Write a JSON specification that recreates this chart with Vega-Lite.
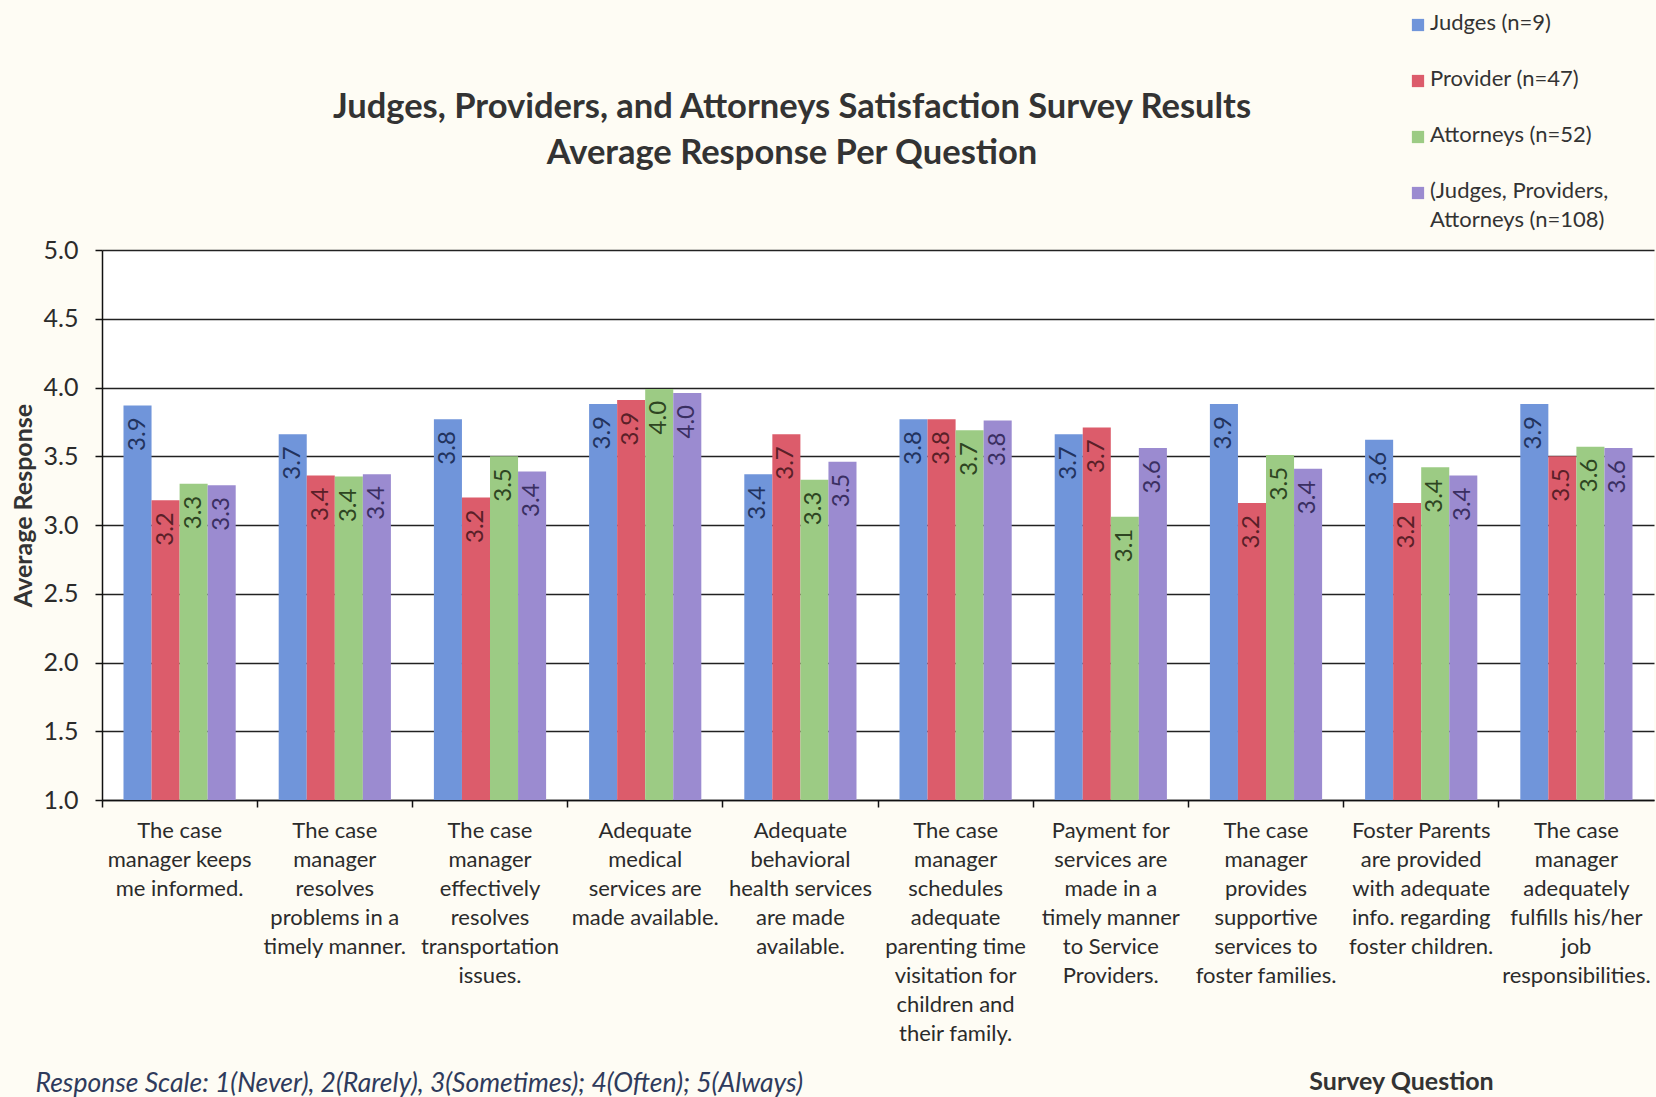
{
  "$schema": "https://vega.github.io/schema/vega-lite/v6.json",
  "width": 1552,
  "height": 550,
  "autosize": {"type": "none"},
  "padding": {"left": 102, "top": 250, "right": 2, "bottom": 297},
  "background": "#FEFCF4",
  "config": {"view": {"fill": "white", "stroke": null}, "font": "Lato"},
  "title": {
    "text": ["Judges, Providers, and Attorneys Satisfaction Survey Results", "Average Response Per Question"],
    "fontSize": 34.5,
    "fontWeight": "bold",
    "color": "#333333",
    "anchor": "middle",
    "frame": "group",
    "dx": -86,
    "offset": 0,
    "dy": 157,
    "lineHeight": 46
  },
  "data": {
    "values": [
      {"q": "The case|manager keeps|me informed.", "series": "Judges (n=9)", "value": 3.87},
      {"q": "The case|manager keeps|me informed.", "series": "Provider (n=47)", "value": 3.18},
      {"q": "The case|manager keeps|me informed.", "series": "Attorneys (n=52)", "value": 3.30},
      {"q": "The case|manager keeps|me informed.", "series": "(Judges, Providers, Attorneys (n=108)", "value": 3.29},
      {"q": "The case|manager|resolves|problems in a|timely manner.", "series": "Judges (n=9)", "value": 3.66},
      {"q": "The case|manager|resolves|problems in a|timely manner.", "series": "Provider (n=47)", "value": 3.36},
      {"q": "The case|manager|resolves|problems in a|timely manner.", "series": "Attorneys (n=52)", "value": 3.352},
      {"q": "The case|manager|resolves|problems in a|timely manner.", "series": "(Judges, Providers, Attorneys (n=108)", "value": 3.37},
      {"q": "The case|manager|effectively|resolves|transportation|issues.", "series": "Judges (n=9)", "value": 3.77},
      {"q": "The case|manager|effectively|resolves|transportation|issues.", "series": "Provider (n=47)", "value": 3.20},
      {"q": "The case|manager|effectively|resolves|transportation|issues.", "series": "Attorneys (n=52)", "value": 3.50},
      {"q": "The case|manager|effectively|resolves|transportation|issues.", "series": "(Judges, Providers, Attorneys (n=108)", "value": 3.39},
      {"q": "Adequate|medical|services are|made available.", "series": "Judges (n=9)", "value": 3.88},
      {"q": "Adequate|medical|services are|made available.", "series": "Provider (n=47)", "value": 3.91},
      {"q": "Adequate|medical|services are|made available.", "series": "Attorneys (n=52)", "value": 3.99},
      {"q": "Adequate|medical|services are|made available.", "series": "(Judges, Providers, Attorneys (n=108)", "value": 3.96},
      {"q": "Adequate|behavioral|health services|are made|available.", "series": "Judges (n=9)", "value": 3.37},
      {"q": "Adequate|behavioral|health services|are made|available.", "series": "Provider (n=47)", "value": 3.66},
      {"q": "Adequate|behavioral|health services|are made|available.", "series": "Attorneys (n=52)", "value": 3.33},
      {"q": "Adequate|behavioral|health services|are made|available.", "series": "(Judges, Providers, Attorneys (n=108)", "value": 3.46},
      {"q": "The case|manager|schedules|adequate|parenting time|visitation for|children and|their family.", "series": "Judges (n=9)", "value": 3.77},
      {"q": "The case|manager|schedules|adequate|parenting time|visitation for|children and|their family.", "series": "Provider (n=47)", "value": 3.77},
      {"q": "The case|manager|schedules|adequate|parenting time|visitation for|children and|their family.", "series": "Attorneys (n=52)", "value": 3.69},
      {"q": "The case|manager|schedules|adequate|parenting time|visitation for|children and|their family.", "series": "(Judges, Providers, Attorneys (n=108)", "value": 3.76},
      {"q": "Payment for|services are|made in a|timely manner|to Service|Providers.", "series": "Judges (n=9)", "value": 3.66},
      {"q": "Payment for|services are|made in a|timely manner|to Service|Providers.", "series": "Provider (n=47)", "value": 3.71},
      {"q": "Payment for|services are|made in a|timely manner|to Service|Providers.", "series": "Attorneys (n=52)", "value": 3.06},
      {"q": "Payment for|services are|made in a|timely manner|to Service|Providers.", "series": "(Judges, Providers, Attorneys (n=108)", "value": 3.56},
      {"q": "The case|manager|provides|supportive|services to|foster families.", "series": "Judges (n=9)", "value": 3.88},
      {"q": "The case|manager|provides|supportive|services to|foster families.", "series": "Provider (n=47)", "value": 3.16},
      {"q": "The case|manager|provides|supportive|services to|foster families.", "series": "Attorneys (n=52)", "value": 3.51},
      {"q": "The case|manager|provides|supportive|services to|foster families.", "series": "(Judges, Providers, Attorneys (n=108)", "value": 3.41},
      {"q": "Foster Parents|are provided|with adequate|info. regarding|foster children.", "series": "Judges (n=9)", "value": 3.62},
      {"q": "Foster Parents|are provided|with adequate|info. regarding|foster children.", "series": "Provider (n=47)", "value": 3.16},
      {"q": "Foster Parents|are provided|with adequate|info. regarding|foster children.", "series": "Attorneys (n=52)", "value": 3.42},
      {"q": "Foster Parents|are provided|with adequate|info. regarding|foster children.", "series": "(Judges, Providers, Attorneys (n=108)", "value": 3.36},
      {"q": "The case|manager|adequately|fulfills his/her|job|responsibilities.", "series": "Judges (n=9)", "value": 3.88},
      {"q": "The case|manager|adequately|fulfills his/her|job|responsibilities.", "series": "Provider (n=47)", "value": 3.50},
      {"q": "The case|manager|adequately|fulfills his/her|job|responsibilities.", "series": "Attorneys (n=52)", "value": 3.57},
      {"q": "The case|manager|adequately|fulfills his/her|job|responsibilities.", "series": "(Judges, Providers, Attorneys (n=108)", "value": 3.56}
    ]
  },
  "encoding": {
    "xOffset": {
      "field": "series",
      "type": "nominal",
      "sort": ["Judges (n=9)", "Provider (n=47)", "Attorneys (n=52)", "(Judges, Providers, Attorneys (n=108)"],
      "scale": {"paddingInner": 0, "paddingOuter": 0}
    },
    "y": {
      "field": "value",
      "type": "quantitative",
      "scale": {"domain": [1, 5], "zero": false, "nice": false},
      "axis": {
        "values": [1, 1.5, 2, 2.5, 3, 3.5, 4, 4.5, 5],
        "format": ".1f",
        "grid": true,
        "gridColor": "#222222",
        "gridWidth": 1.5,
        "domainColor": "#111111",
        "domainWidth": 1.5,
        "tickColor": "#111111",
        "tickSize": 7,
        "tickWidth": 1.5,
        "labelFontSize": 25,
        "labelPadding": 17,
        "labelColor": "#2b2b2b",
        "title": "Average Response",
        "titleFontSize": 25,
        "titleFontWeight": "bold",
        "titleColor": "#333333",
        "titleX": -79,
        "titleY": 255,
        "titleAngle": -90,
        "titleAlign": "center",
        "titleBaseline": "middle"
      }
    }
  },
  "layer": [
    {
      "mark": {"type": "bar"},
      "encoding": {
        "x": {
          "field": "q",
          "type": "nominal",
          "sort": null,
          "scale": {"paddingInner": 0.277, "paddingOuter": 0.1385},
          "axis": {
            "orient": "bottom",
            "ticks": false,
            "domain": true,
            "domainColor": "#111111",
            "domainWidth": 1.5,
            "labelExpr": "split(datum.label, '|')",
            "labelAngle": 0,
            "labelFontSize": 22,
            "labelLineHeight": 29,
            "labelColor": "#2b2b2b",
            "labelPadding": 20,
            "labelBaseline": "top",
            "labelLimit": 400,
            "labelOverlap": false,
            "labelBound": false,
            "title": "Survey Question",
            "titleFontSize": 25,
            "titleFontWeight": "bold",
            "titleColor": "#333333",
            "titleX": 1299,
            "titleY": 281,
            "titleAlign": "center",
            "titleBaseline": "middle"
          }
        },
        "y2": {"datum": 1},
        "color": {
          "field": "series",
          "type": "nominal",
          "sort": ["Judges (n=9)", "Provider (n=47)", "Attorneys (n=52)", "(Judges, Providers, Attorneys (n=108)"],
          "scale": {"range": ["#7095DA", "#DC5C6B", "#9CCB84", "#9B8BD0"]},
          "legend": {
            "orient": "none",
            "legendX": 1305,
            "legendY": -236,
            "title": null,
            "symbolType": "square",
            "symbolSize": 150,
            "symbolStrokeWidth": 0,
            "labelFontSize": 22,
            "labelColor": "#333333",
            "labelOffset": 1,
            "labelLimit": 400,
            "rowPadding": 34,
            "labelBaseline": "top",
            "labelExpr": "datum.label == '(Judges, Providers, Attorneys (n=108)' ? ['(Judges, Providers,', 'Attorneys (n=108)'] : datum.label",
            "encode": {"labels": {"update": {"dy": {"value": -12}, "lineHeight": {"value": 29}}}}
          }
        }
      }
    },
    {
      "mark": {"type": "text", "angle": -90, "align": "right", "baseline": "middle", "dx": -12, "fontSize": 24},
      "encoding": {
        "x": {
          "field": "q",
          "type": "nominal",
          "sort": null,
          "axis": {
            "orient": "bottom",
            "labels": false,
            "domain": false,
            "ticks": true,
            "tickSize": 7,
            "tickColor": "#111111",
            "tickWidth": 1.5,
            "bandPosition": -0.19,
            "title": "Response Scale:  1(Never), 2(Rarely), 3(Sometimes); 4(Often); 5(Always)",
            "titleFontSize": 26.5,
            "titleFontStyle": "italic",
            "titleFontWeight": "normal",
            "titleColor": "#2F3B5C",
            "titleX": -67,
            "titleY": 283,
            "titleAlign": "left",
            "titleBaseline": "middle"
          }
        },
        "text": {"field": "value", "type": "quantitative", "format": ".1f"},
        "color": {
          "field": "series",
          "type": "nominal",
          "sort": ["Judges (n=9)", "Provider (n=47)", "Attorneys (n=52)", "(Judges, Providers, Attorneys (n=108)"],
          "scale": {"range": ["#22335E", "#5A2028", "#2E4522", "#3A2F62"]},
          "legend": null
        }
      }
    }
  ],
  "resolve": {"scale": {"color": "independent"}, "axis": {"x": "independent"}}
}
